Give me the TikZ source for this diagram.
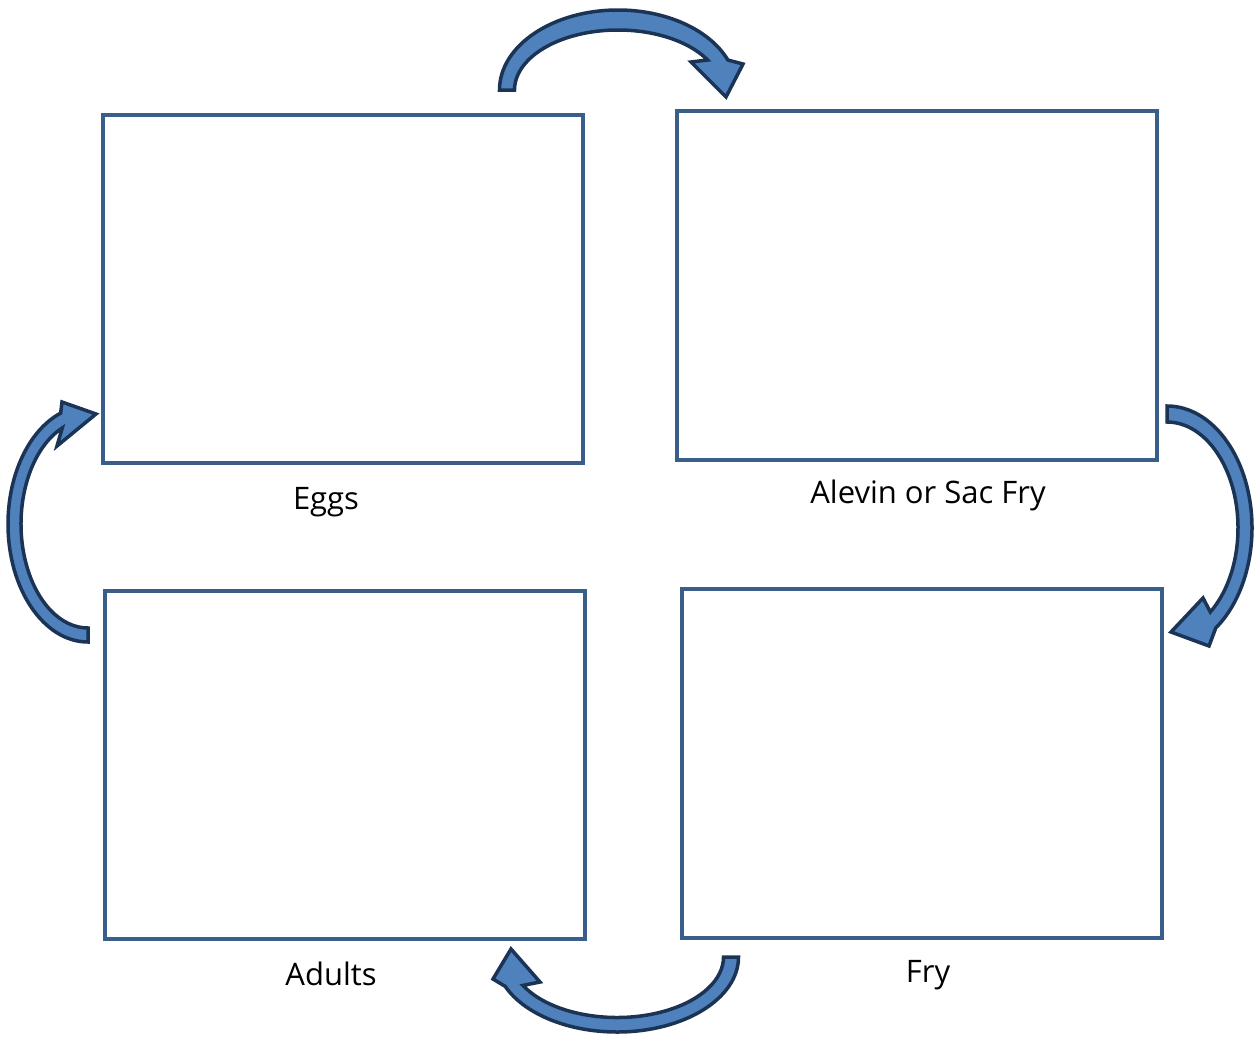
\documentclass[tikz,border=0pt]{standalone}
\usepackage{fontspec}
\setmainfont{Open Sans}
\definecolor{boxline}{HTML}{3A5E8C}
\definecolor{arrowfill}{HTML}{4F81BD}
\definecolor{arrowline}{HTML}{1B3456}
\begin{document}
\begin{tikzpicture}[x=1pt,y=-1pt,
  stagebox/.style={draw=boxline,line width=3.5pt,minimum width=480pt,minimum height=348pt,inner sep=0pt,outer sep=0pt},
  stagelabel/.style={anchor=base,inner sep=0pt,font=\fontsize{31}{36}\selectfont},
  blockarrow/.style={fill=arrowfill,draw=arrowline,line width=3.5pt,line join=miter,miter limit=4}]
\useasboundingbox (0,0) rectangle (1257,1036);
% stage boxes
\node[stagebox] (eggs) at (343,289) {};
\node[stagebox,minimum height=349pt] (alevin) at (917,285.5) {};
\node[stagebox] (adults) at (345,765) {};
\node[stagebox,minimum height=349pt] (fry) at (922,763.5) {};
% labels
\node[stagelabel] (leggs) at (326,509) {Eggs};
\node[stagelabel] (lalevin) at (928,503) {Alevin or Sac Fry};
\node[stagelabel] (ladults) at (331,985) {Adults};
\node[stagelabel] (lfry) at (928,982) {Fry};
% top arrow: eggs -> alevin
\coordinate (tc) at (618,90);
\draw[blockarrow] ([shift={(tc)}]180:118.5 and 80)
  arc[start angle=180,end angle=338,x radius=118.5,y radius=80]
  -- (743,64) -- (726,97) -- (691,62)
  -- ([shift={(tc)}]330:103.5 and 60)
  arc[start angle=330,end angle=180,x radius=103.5,y radius=60] -- cycle;
% right arrow: alevin -> fry
\coordinate (rc) at (1167,528);
\draw[blockarrow] ([shift={(rc)}]270:85 and 122)
  arc[start angle=270,end angle=415,x radius=85,y radius=122]
  -- (1209,646) -- (1171,632) -- (1203,598)
  -- ([shift={(rc)}]412.4:71 and 106)
  arc[start angle=412.4,end angle=270,x radius=71,y radius=106] -- cycle;
% bottom arrow: fry -> adults
\coordinate (bc) at (617,957);
\draw[blockarrow] ([shift={(bc)}]0:121.5 and 75)
  arc[start angle=0,end angle=157,x radius=121.5,y radius=75]
  -- (493,979) -- (511,949) -- (540,982)
  -- ([shift={(bc)}]152:106.5 and 60.5)
  arc[start angle=152,end angle=0,x radius=106.5,y radius=60.5] -- cycle;
% left arrow: adults -> eggs
\coordinate (lc) at (88,524);
\draw[blockarrow] ([shift={(lc)}]90:80 and 118)
  arc[start angle=90,end angle=250,x radius=80,y radius=118]
  -- (62,402) -- (96,414) -- (57,446)
  -- ([shift={(lc)}]247.4:67 and 104)
  arc[start angle=247.4,end angle=90,x radius=67,y radius=104] -- cycle;
\end{tikzpicture}
\end{document}
